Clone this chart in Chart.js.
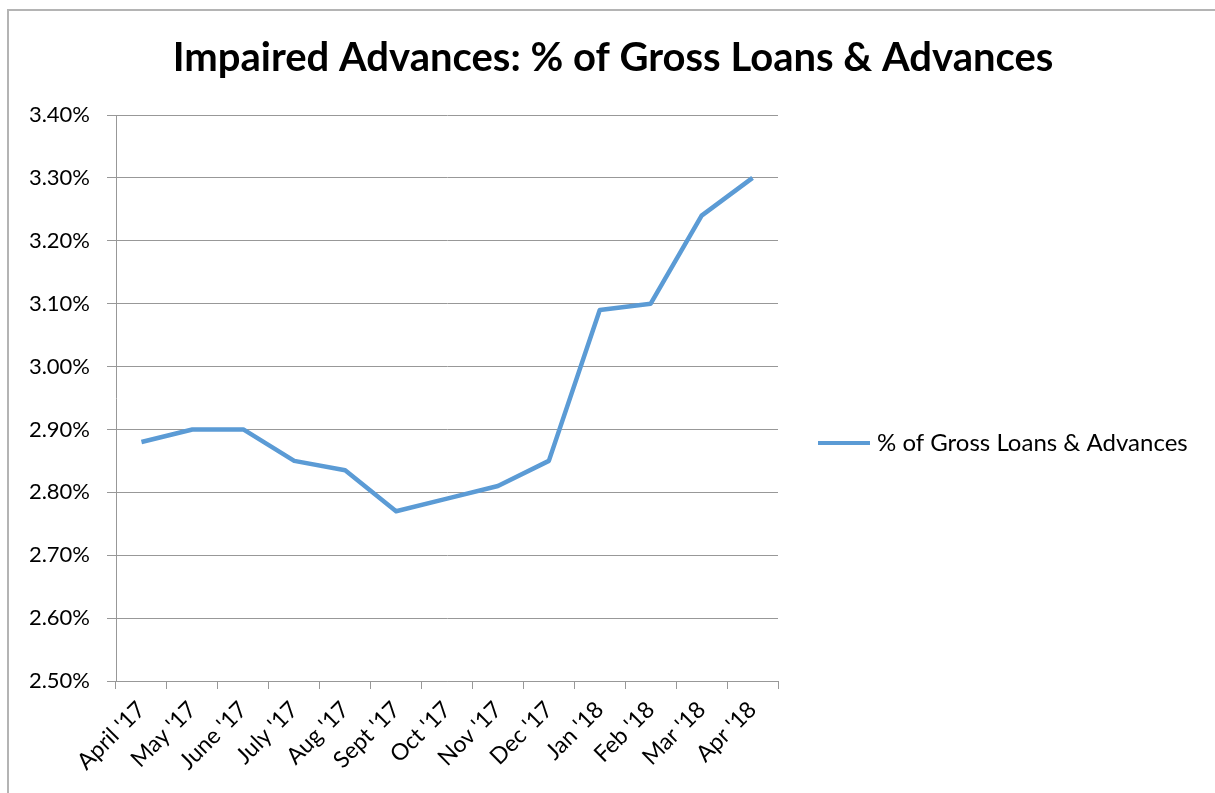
<!DOCTYPE html>
<html>
<head>
  <meta charset="UTF-8">
  <title>Impaired Advances</title>
  <script src="https://cdn.jsdelivr.net/npm/chart.js"></script>
  <style>
    body {
      margin: 0;
      background: #fff;
      overflow: hidden;
    }
    #frame {
      position: absolute;
      left: 7px;
      top: 9px;
      width: 1400px;
      height: 1000px;
      border: 2px solid #b4b4b4;
      box-sizing: border-box;
    }
    #wrap {
      position: absolute;
      left: 0;
      top: 0;
      width: 1215px;
      height: 793px;
    }
  </style>
</head>
<body>
  <div id="frame"></div>
  <div id="wrap"><canvas id="chart"></canvas></div>
  <script>
    const months = ["April '17", "May '17", "June '17", "July '17", "Aug '17", "Sept '17", "Oct '17",
                    "Nov '17", "Dec '17", "Jan '18", "Feb '18", "Mar '18", "Apr '18"];
    const impairedPct = [2.88, 2.90, 2.90, 2.85, 2.835, 2.77, 2.79, 2.81, 2.85, 3.09, 3.10, 3.24, 3.30];
    const seriesName = '% of Gross Loans & Advances';
    const chartTitle = 'Impaired Advances: % of Gross Loans & Advances';

    const FONT = "Lato, 'Open Sans', sans-serif";
    const lineColor = '#5b9bd5';
    const gridColor = '#989898';

    // title and legend are painted by hand so the plot can sit left of the legend
    const decorations = {
      id: 'decorations',
      afterDraw(chart) {
        const ctx = chart.ctx;
        ctx.save();
        ctx.fillStyle = '#000';
        ctx.font = 'bold 40px ' + FONT;
        ctx.textAlign = 'center';
        ctx.textBaseline = 'middle';
        ctx.fillText(chartTitle, 613, 58);

        const ds = chart.data.datasets[0];
        const ly = 443;
        ctx.strokeStyle = ds.borderColor;
        ctx.lineWidth = 4;
        ctx.beginPath();
        ctx.moveTo(818, ly);
        ctx.lineTo(870, ly);
        ctx.stroke();
        ctx.font = '24px ' + FONT;
        ctx.textAlign = 'left';
        ctx.fillText(ds.label, 877, ly);
        ctx.restore();
      }
    };

    new Chart(document.getElementById('chart'), {
      type: 'line',
      data: {
        labels: months,
        datasets: [{
          label: seriesName,
          data: impairedPct,
          borderColor: lineColor,
          backgroundColor: lineColor,
          borderWidth: 4.5,
          borderJoinStyle: 'round',
          pointRadius: 0,
          tension: 0,
          fill: false
        }]
      },
      options: {
        responsive: true,
        maintainAspectRatio: false,
        animation: false,
        layout: { padding: { top: 115, right: 437, left: 0, bottom: 0 } },
        plugins: {
          legend: { display: false },
          title: { display: false },
          tooltip: { enabled: false }
        },
        scales: {
          x: {
            offset: true,
            grid: {
              offset: true,
              drawOnChartArea: false,
              drawTicks: true,
              tickLength: 8,
              color: gridColor
            },
            border: { display: true, color: gridColor, width: 1 },
            ticks: {
              color: '#000',
              font: { family: FONT, size: 23 },
              minRotation: 45,
              maxRotation: 45,
              autoSkip: false,
              padding: 7
            },
            afterFit(scale) { scale.height = 112; }
          },
          y: {
            min: 2.5,
            max: 3.4,
            grid: {
              color: gridColor,
              lineWidth: 1,
              drawTicks: true,
              tickLength: 9
            },
            border: { display: true, color: gridColor, width: 1 },
            ticks: {
              stepSize: 0.1,
              color: '#000',
              font: { family: FONT, size: 22 },
              padding: 17,
              callback: v => v.toFixed(2) + '%'
            },
            afterFit(scale) { scale.width = 116; }
          }
        }
      },
      plugins: [decorations]
    });
  </script>
</body>
</html>
